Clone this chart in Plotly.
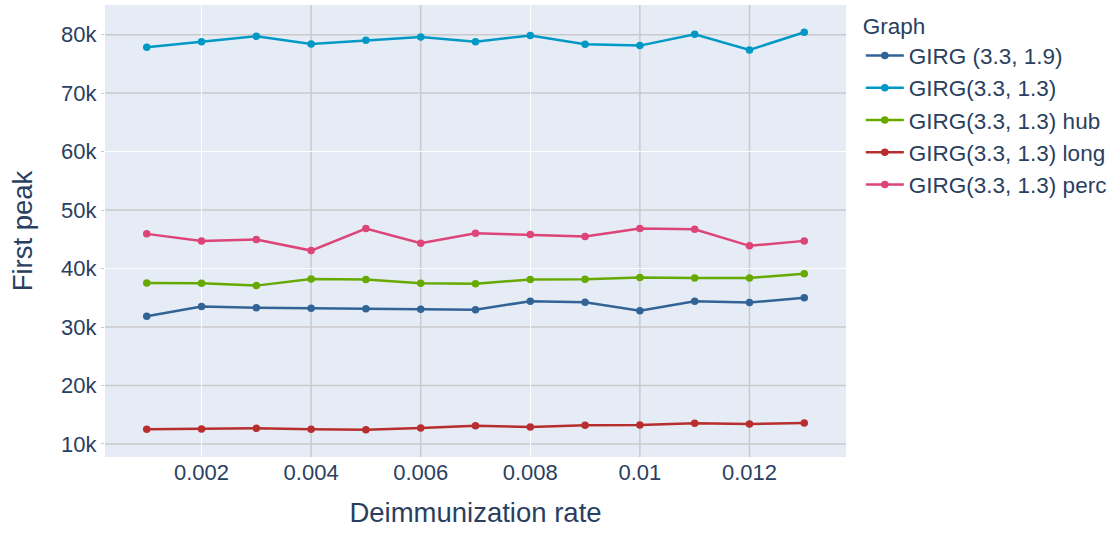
import plotly.graph_objects as go

rates = [0.001, 0.002, 0.003, 0.004, 0.005, 0.006, 0.007, 0.008, 0.009, 0.010, 0.011, 0.012, 0.013]

girg_19 = [31840, 33490, 33310, 33200, 33140, 33030, 32970, 34420, 34250, 32800, 34420, 34200, 35000]
girg_13 = [77830, 78800, 79710, 78400, 79030, 79600, 78800, 79830, 78340, 78120, 80050, 77380, 80400]
girg_13_hub = [37540, 37490, 37080, 38200, 38110, 37490, 37420, 38110, 38170, 38460, 38400, 38400, 39090]
girg_13_long = [12500, 12550, 12670, 12500, 12440, 12730, 13130, 12910, 13190, 13250, 13530, 13420, 13590]
girg_13_perc = [45930, 44730, 44950, 43070, 46840, 44340, 46050, 45810, 45470, 46840, 46730, 43880, 44730]

series_names = ["GIRG (3.3, 1.9)", "GIRG(3.3, 1.3)", "GIRG(3.3, 1.3) hub",
                "GIRG(3.3, 1.3) long", "GIRG(3.3, 1.3) perc"]
series_values = [girg_19, girg_13, girg_13_hub, girg_13_long, girg_13_perc]
colors = ["#316395", "#0099C6", "#66AA00", "#B82E2E", "#DD4477"]

x_tick_vals = [0.002, 0.004, 0.006, 0.008, 0.010, 0.012]
x_tick_text = ["0.002", "0.004", "0.006", "0.008", "0.01", "0.012"]
y_tick_vals = [10000, 20000, 30000, 40000, 50000, 60000, 70000, 80000]
y_tick_text = ["10k", "20k", "30k", "40k", "50k", "60k", "70k", "80k"]

# gridlines that are white vs grey in the reference
white_x_grid = [0.002, 0.008]
white_y_grid = [40000, 60000]
grey_x_grid = [0.004, 0.006, 0.010, 0.012]
grey_y_grid = [10000, 20000, 30000, 50000, 70000, 80000]
GREY = "#cacaca"

FONT = "Liberation Sans, Arial, sans-serif"

fig = go.Figure()
for name, vals, col in zip(series_names, series_values, colors):
    fig.add_trace(go.Scatter(x=rates, y=vals, mode="lines+markers", name=name,
                             line=dict(color=col, width=2.5),
                             marker=dict(color=col, size=7.5)))

for xv in grey_x_grid:
    fig.add_shape(type="line", xref="x", yref="paper", x0=xv, x1=xv, y0=0, y1=1,
                  line=dict(color=GREY, width=1.5), layer="below")
for yv in grey_y_grid:
    fig.add_shape(type="line", xref="paper", yref="y", x0=0, x1=1, y0=yv, y1=yv,
                  line=dict(color=GREY, width=1.5), layer="below")

fig.update_layout(
    width=1113, height=534,
    template="plotly",
    font=dict(family=FONT, size=22, color="#2a3f5f"),
    margin=dict(l=105, r=267, t=5, b=77, autoexpand=False),
    legend=dict(title=dict(text="Graph", font=dict(size=22.5)), font=dict(size=22.5),
                itemwidth=38),
    xaxis=dict(title=dict(text="Deimmunization rate", font=dict(size=27.5), standoff=18),
               tickvals=x_tick_vals, ticktext=x_tick_text,
               showgrid=False, zeroline=False,
               minor=dict(tickvals=white_x_grid, showgrid=True, gridcolor="white",
                          gridwidth=1.2)),
    yaxis=dict(title=dict(text="First peak", font=dict(size=27.5), standoff=20),
               tickvals=y_tick_vals, ticktext=y_tick_text,
               showgrid=False, zeroline=False,
               ticks="outside", ticklen=3, tickcolor=GREY,
               minor=dict(tickvals=white_y_grid, showgrid=True, gridcolor="white",
                          gridwidth=1.2)),
)

fig.write_html("out.html", config={"displayModeBar": False},
               post_script="document.body.style.margin='0px';")
